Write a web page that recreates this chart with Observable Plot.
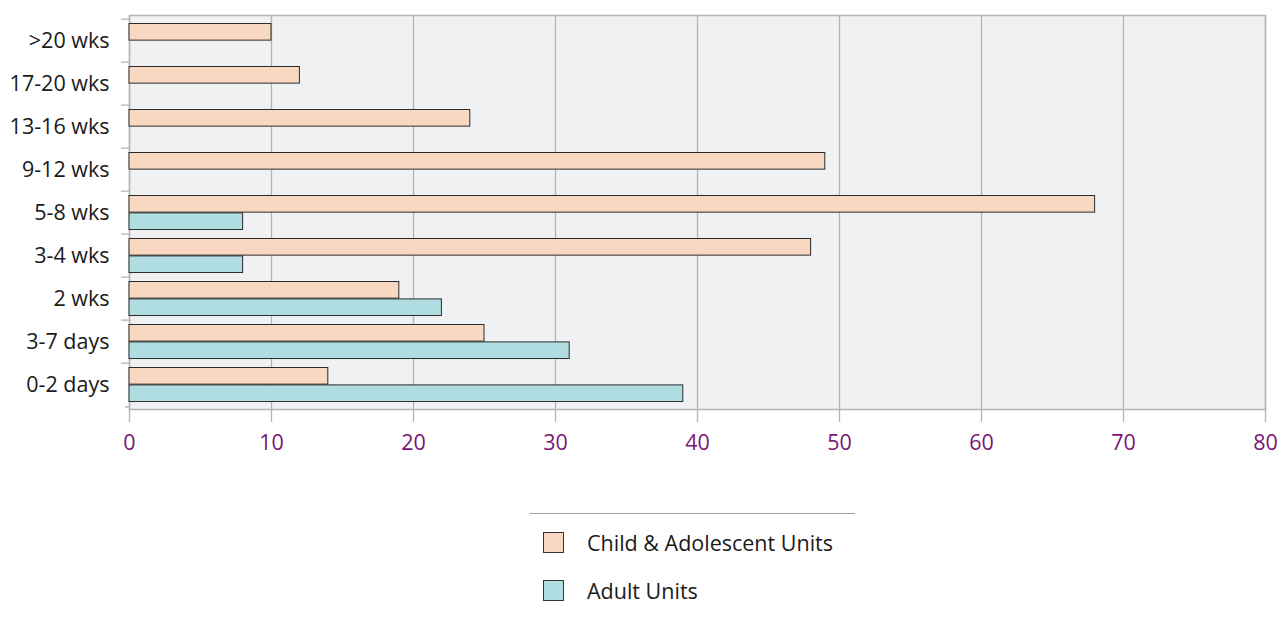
<!DOCTYPE html>
<html>
<head>
<meta charset="utf-8">
<script src="https://cdn.jsdelivr.net/npm/d3@7"></script>
<script src="https://cdn.jsdelivr.net/npm/@observablehq/plot@0.6"></script>
<style>
  html, body { margin: 0; padding: 0; background: #ffffff; }
  body { width: 1281px; height: 618px; overflow: hidden; font-family: "Open Sans", "Noto Sans", sans-serif; }
  #chart svg { display: block; }
  #legend { position: relative; width: 1281px; height: 158px; }
  #legend .sep { position: absolute; left: 530px; top: 53px; width: 325px; height: 0; border-top: 1px solid #a0a0a0; }
  #legend .item { position: absolute; left: 543px; display: flex; align-items: center; font-size: 21.5px; color: #1a1a1a; }
  #legend .sw { width: 21px; height: 21px; box-sizing: border-box; border: 1px solid #333; margin-right: 23px; }
</style>
</head>
<body>
<div id="chart"></div>
<div id="legend"></div>
<script>
// ---- data ----
const categories = [">20 wks", "17-20 wks", "13-16 wks", "9-12 wks", "5-8 wks", "3-4 wks", "2 wks", "3-7 days", "0-2 days"];
const childValues = [10, 12, 24, 49, 68, 48, 19, 25, 14];
const adultValues = [null, null, null, null, 8, 8, 22, 31, 39];
const seriesNames = ["Child & Adolescent Units", "Adult Units"];
const xTicks = [0, 10, 20, 30, 40, 50, 60, 70, 80];

// ---- style ----
const colors = ["#f8d8c0", "#b0dde2"];
const W = 1281, H = 460, mt = 15, mb = 51, ml = 129, mr = 16;
const bw = (H - mt - mb) / categories.length;
const barH = 17.4;
const topPad = 4.5;

const childData = categories.map((c, i) => ({category: c, value: childValues[i]})).filter(d => d.value != null);
const adultData = categories.map((c, i) => ({category: c, value: adultValues[i]})).filter(d => d.value != null);

const chart = Plot.plot({
  width: W,
  height: H,
  marginTop: mt,
  marginBottom: mb,
  marginLeft: ml,
  marginRight: mr,
  style: {fontFamily: "'Open Sans', 'Noto Sans', sans-serif", fontSize: "21.5px", background: "#ffffff", overflow: "visible"},
  x: {domain: [0, 80]},
  y: {domain: categories, padding: 0},
  marks: [
    Plot.frame({fill: "#f0f1f3", stroke: null}),
    Plot.gridX(xTicks, {stroke: "#b4b4b4", strokeOpacity: 1, strokeWidth: 1.3}),
    Plot.frame({stroke: "#b4b4b4", strokeWidth: 1.5}),
    Plot.barX(childData, {
      x: "value", y: "category", fill: colors[0], stroke: "#2b2b2b", strokeWidth: 1,
      insetTop: topPad, insetBottom: bw - topPad - barH
    }),
    Plot.barX(adultData, {
      x: "value", y: "category", fill: colors[1], stroke: "#2b2b2b", strokeWidth: 1,
      insetTop: topPad + barH, insetBottom: bw - topPad - 2 * barH
    }),
    Plot.axisX(xTicks, {
      tickSize: 13, tickPadding: 12, stroke: "#b4b4b4", strokeWidth: 1.3,
      color: "#7a1574", fontSize: 21.5, label: null
    }),
    Plot.axisY({
      tickSize: 8, tickFormat: () => "", stroke: "#b4b4b4", strokeWidth: 1.3, dy: -bw / 2, label: null
    }),
    Plot.axisY([categories[categories.length - 1]], {
      tickSize: 4, tickFormat: () => "", stroke: "#b4b4b4", strokeWidth: 1.5, dy: bw / 2, label: null
    }),
    Plot.axisY({
      tickSize: 0, tickPadding: 20, color: "#1a1a1a", fontSize: 21.5, label: null
    })
  ]
});
document.getElementById("chart").appendChild(chart);

// ---- legend (HTML, below the SVG) ----
const legend = document.getElementById("legend");
const sep = document.createElement("div");
sep.className = "sep";
legend.appendChild(sep);
const legendTops = [68, 116];
seriesNames.forEach((name, i) => {
  const item = document.createElement("div");
  item.className = "item";
  item.style.top = legendTops[i] + "px";
  const sw = document.createElement("div");
  sw.className = "sw";
  sw.style.background = colors[i];
  const label = document.createElement("span");
  label.textContent = name;
  item.appendChild(sw);
  item.appendChild(label);
  legend.appendChild(item);
});
</script>
</body>
</html>
